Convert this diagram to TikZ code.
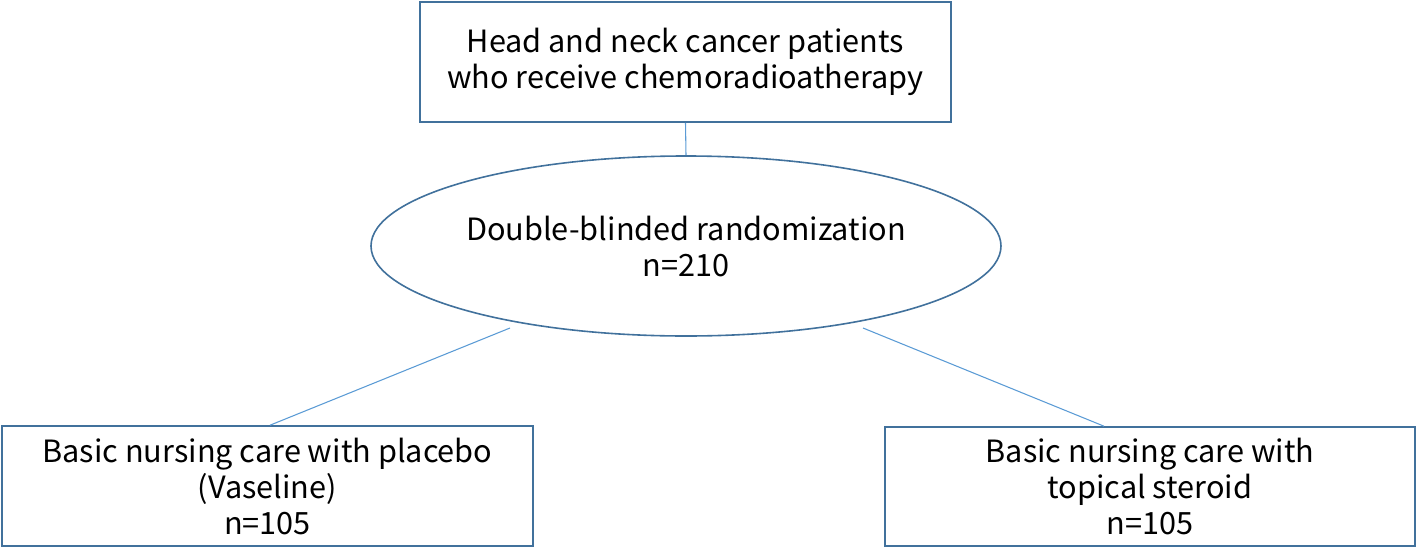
\documentclass[tikz,border=0pt]{standalone}
\usepackage{fontspec}
\setmainfont{Noto Sans CJK JP}
\usetikzlibrary{shapes.geometric}
\definecolor{boxblue}{HTML}{41719C}
\definecolor{lineblue}{HTML}{5B9BD5}
\begin{document}
\begin{tikzpicture}[x=0.75pt,y=-0.75pt,
  txt/.style={font=\fontsize{23}{27}\selectfont, align=center, text=black},
  box/.style={draw=boxblue, line width=1.2pt, rectangle, inner sep=0pt, txt},
  conn/.style={draw=lineblue, line width=0.8pt}]
\useasboundingbox (0,0) rectangle (1418,550);
\node[box, minimum width=531*0.75pt, minimum height=120*0.75pt] (top) at (685.5,62) {Head and neck cancer patients\\who receive chemoradioatherapy};
\node[draw=boxblue, line width=1.2pt, ellipse, inner sep=0pt, minimum width=630*0.75pt, minimum height=180*0.75pt, txt] (ell) at (686,246) {};
\node[txt] (elltext) at (686,246) {Double-blinded randomization\\n=210};
\node[box, minimum width=531*0.75pt, minimum height=120*0.75pt] (bl) at (267.5,486) {Basic nursing care with placebo\\(Vaseline)\\n=105};
\node[box, minimum width=530*0.75pt, minimum height=119*0.75pt] (br) at (1150,486.5) {Basic nursing care with\\topical steroid\\n=105};
\coordinate (l1) at (510,328);
\coordinate (r1) at (863,328);
\draw[conn] (top.south) -- (ell.north);
\draw[conn] (l1) -- ([xshift=2.5*0.75pt]bl.north);
\draw[conn] (r1) -- ([xshift=-46*0.75pt]br.north);
\end{tikzpicture}
\end{document}
